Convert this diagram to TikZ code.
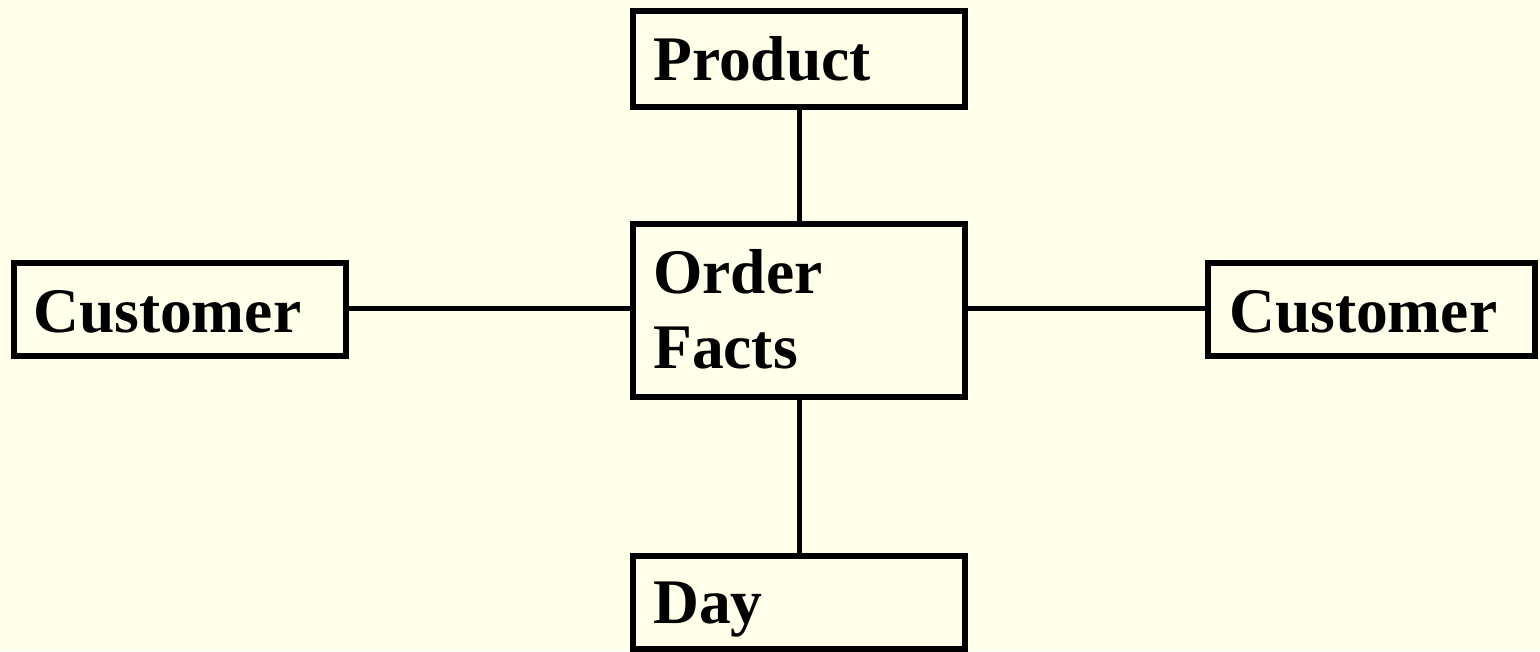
\documentclass[tikz,border=0pt]{standalone}
\usepackage{fontspec}
\setmainfont{Liberation Serif}
\usetikzlibrary{calc}
\definecolor{bg}{RGB}{255,255,234}
\begin{document}
\begin{tikzpicture}[x=1pt,y=-1pt,
  box/.style={draw=black, line width=6pt, fill=bg, rectangle, inner sep=0pt, outer sep=0pt, anchor=north west},
  lbl/.style={anchor=base west, inner sep=0pt, font=\fontsize{63.5}{75}\selectfont\bfseries, align=left},
  conn/.style={draw=black, line width=5pt}]
\fill[bg] (0,0) rectangle (1540,651);
\useasboundingbox (0,0) rectangle (1540,651);
\node[box, minimum width=332pt, minimum height=96pt] (product) at (633,11) {};
\node[box, minimum width=332pt, minimum height=173pt] (order) at (633,224) {};
\node[box, minimum width=332pt, minimum height=93pt] (custL) at (14,263) {};
\node[box, minimum width=327pt, minimum height=93pt] (custR) at (1208,263) {};
\node[box, minimum width=332pt, minimum height=93pt] (day) at (633,556) {};
\node[lbl] (tproduct) at ($(product.north west)+(20,69)$) {Product};
\node[lbl] (torder) at ($(order.north west)+(20,69)$) {Order};
\node[lbl] (tfacts) at ($(order.north west)+(20,144)$) {Facts};
\node[lbl] (tcustL) at ($(custL.north west)+(19,69)$) {Customer};
\node[lbl] (tcustR) at ($(custR.north west)+(21,69)$) {Customer};
\node[lbl] (tday) at ($(day.north west)+(20,67)$) {Day};
\coordinate (hy) at (0,308);
\draw[conn] (product.south) -- (order.north);
\draw[conn] (order.south) -- (day.north);
\draw[conn] (custL.east |- hy) -- (order.west |- hy);
\draw[conn] (order.east |- hy) -- (custR.west |- hy);
\end{tikzpicture}
\end{document}
